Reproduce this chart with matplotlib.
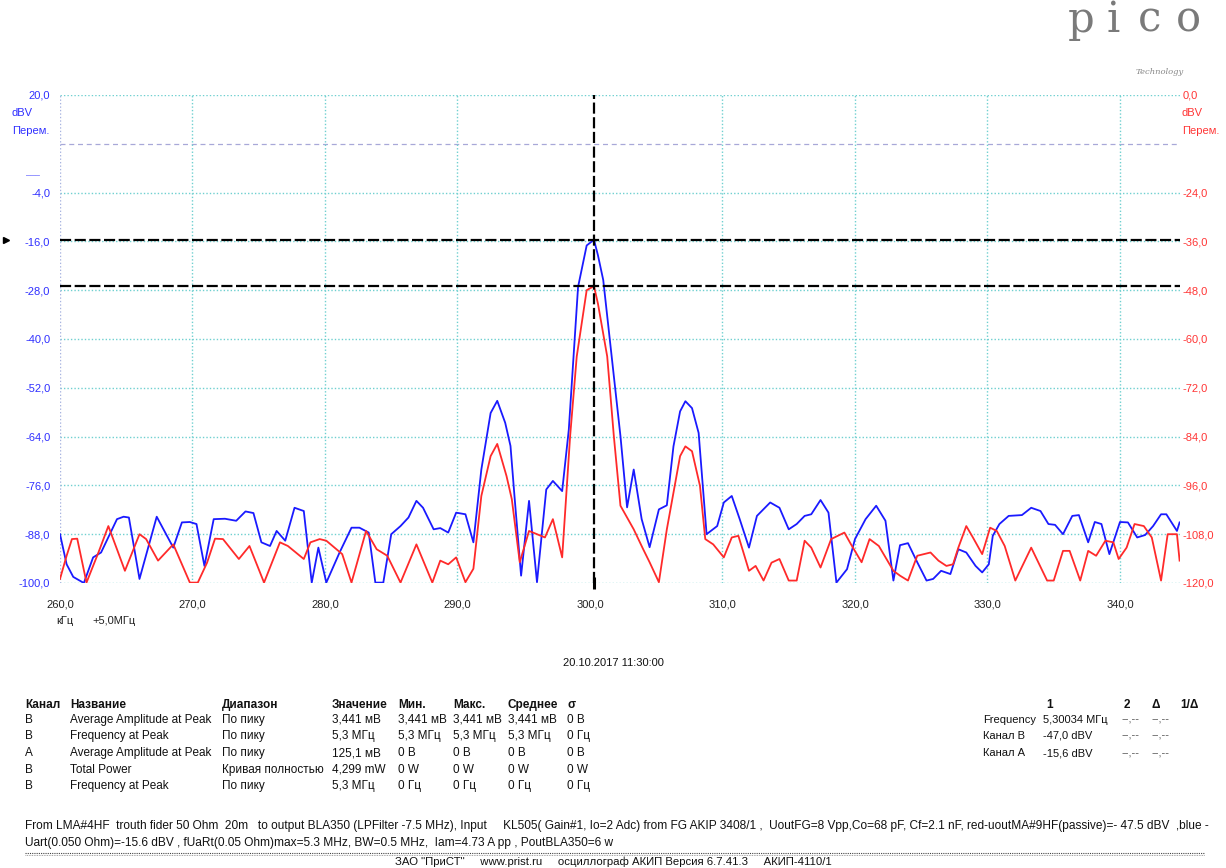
import matplotlib
matplotlib.use('Agg')
import matplotlib.pyplot as plt
from matplotlib.lines import Line2D
import matplotlib.transforms as mtrans

plt.rcParams['font.family'] = ['Liberation Sans', 'DejaVu Sans']

W, H = 1226, 868

# ---------------- data (kHz offset from 5.0 MHz, dBV) ----------------
freq_blue = [260.0, 260.5, 261.0, 261.8, 262.5, 263.1, 264.3, 264.8, 265.2, 266.0,
             267.3, 268.55, 269.2, 269.8, 270.3, 270.9, 271.6, 272.45, 273.3, 274.0,
             274.6, 275.2, 275.85, 276.35, 277.0, 277.7, 278.4, 279.0, 279.5, 280.1,
             281.1, 282.0, 282.6, 283.3, 283.8, 284.4, 285.0, 285.7, 286.3, 286.9,
             287.4, 288.2, 288.7, 289.3, 289.9, 290.6, 291.2, 291.8, 292.5, 293.0,
             293.6, 294.0, 294.3, 294.8, 295.4, 296.0, 296.7, 297.2, 297.9, 298.4,
             299.1, 299.75, 300.3, 300.6, 301.0, 301.5, 302.3, 302.8, 303.3, 303.9,
             304.5, 305.2, 305.8, 306.3, 306.8, 307.2, 307.7, 308.2, 308.8, 309.6,
             310.1, 310.7, 311.3, 312.0, 312.6, 313.6, 314.3, 315.0, 315.6, 316.2,
             316.7, 317.4, 318.0, 318.6, 319.4, 320.0, 320.8, 321.6, 322.3, 322.9,
             323.4, 324.0, 324.7, 325.4, 325.9, 326.5, 327.2, 327.8, 328.4, 329.1,
             329.6, 330.1, 330.4, 330.9, 331.6, 332.6, 333.3, 334.0, 334.6, 335.1,
             335.7, 336.4, 336.9, 337.6, 338.1, 338.6, 339.2, 340.0, 340.6, 341.3,
             341.9, 342.5, 343.1, 343.5, 344.3, 344.5]
blue_dbv = [-88.0, -95.4, -98.5, -100.0, -93.7, -92.5, -84.3, -83.7, -83.9, -99.0,
            -83.7, -91.3, -85.1, -85.0, -85.5, -95.8, -84.3, -84.2, -84.7, -82.4,
            -82.8, -90.0, -90.9, -87.2, -89.6, -81.5, -82.3, -99.9, -91.3, -99.9,
            -92.5, -86.4, -86.4, -87.6, -99.9, -99.9, -88.0, -86.0, -83.9, -79.8,
            -81.5, -86.8, -86.5, -87.6, -82.7, -83.1, -90.0, -72.1, -58.2, -55.2,
            -60.6, -66.3, -78.6, -98.2, -79.8, -99.8, -77.0, -74.9, -77.4, -62.3,
            -27.2, -17.0, -15.6, -19.4, -25.5, -40.2, -63.9, -81.4, -72.1, -84.3,
            -91.2, -81.9, -80.9, -66.4, -57.8, -55.3, -57.0, -63.1, -88.0, -86.0,
            -80.2, -78.6, -84.3, -91.3, -83.5, -80.2, -81.5, -86.8, -85.5, -83.5,
            -83.1, -79.6, -82.7, -99.9, -96.6, -89.2, -84.3, -81.0, -84.7, -99.4,
            -90.7, -90.2, -94.9, -99.4, -99.0, -97.0, -97.8, -91.7, -92.5, -95.8,
            -97.4, -95.4, -88.4, -85.5, -83.5, -83.3, -81.5, -82.3, -85.5, -85.7,
            -88.0, -83.5, -83.3, -90.0, -85.0, -85.5, -92.9, -85.0, -85.1, -88.8,
            -88.2, -86.0, -83.1, -83.1, -87.2, -85.1]

freq_red = [260.0, 260.5, 260.9, 261.3, 262.0, 262.9, 263.65, 264.3, 264.9, 266.0,
            266.5, 267.4, 268.55, 269.8, 270.4, 271.1, 271.7, 272.3, 273.5, 274.3,
            275.4, 276.6, 277.2, 278.4, 278.9, 279.6, 280.1, 281.3, 282.0, 283.1,
            283.9, 284.7, 285.7, 286.9, 288.1, 288.7, 289.3, 289.9, 290.6, 291.2,
            291.8, 292.5, 293.0, 293.7, 294.1, 294.7, 295.4, 296.0, 296.6, 297.2,
            297.9, 298.5, 299.0, 299.75, 300.3, 300.6, 301.3, 301.8, 302.3, 303.3,
            304.0, 304.5, 305.2, 305.8, 306.3, 306.8, 307.2, 307.7, 308.3, 308.7,
            309.3, 310.1, 310.7, 311.2, 312.0, 312.5, 313.1, 313.7, 314.3, 315.0,
            315.6, 316.2, 316.7, 317.4, 318.2, 319.2, 319.7, 320.5, 321.1, 321.8,
            322.9, 323.4, 324.0, 324.7, 325.7, 326.3, 326.9, 327.4, 327.8, 328.4,
            328.9, 329.6, 330.2, 330.7, 331.3, 332.1, 333.3, 334.5, 335.0, 335.7,
            336.2, 337.0, 337.6, 338.2, 338.9, 339.5, 339.9, 340.5, 341.1, 341.8,
            342.4, 343.1, 343.6, 344.3, 344.5]
red_dbv = [-119.0, -113.3, -109.2, -109.1, -119.9, -112.5, -106.0, -111.7, -117.0, -108.0,
           -109.2, -114.5, -110.5, -119.9, -119.9, -115.0, -109.1, -109.2, -114.1, -110.9,
           -119.9, -110.0, -110.9, -114.1, -110.0, -109.2, -109.6, -112.9, -119.9, -107.2,
           -111.7, -113.3, -119.9, -110.5, -119.9, -114.5, -115.4, -113.7, -119.8, -116.5,
           -98.6, -88.8, -85.8, -93.7, -99.4, -114.9, -107.2, -108.0, -108.8, -104.3,
           -113.7, -83.9, -64.3, -48.0, -47.0, -51.3, -64.3, -83.9, -101.0, -106.8,
           -111.6, -114.9, -119.8, -106.8, -97.8, -88.8, -86.4, -87.6, -96.1, -109.2,
           -110.5, -113.7, -108.8, -108.4, -117.0, -115.8, -119.4, -115.0, -114.1, -119.4,
           -119.4, -109.6, -111.3, -116.2, -109.2, -107.6, -110.5, -114.9, -109.2, -110.9,
           -117.0, -118.2, -119.4, -113.3, -112.5, -114.5, -115.8, -115.4, -111.3, -106.0,
           -108.8, -112.9, -106.4, -107.2, -110.9, -119.4, -111.3, -119.4, -119.4, -112.1,
           -112.1, -119.4, -112.1, -113.3, -109.6, -110.0, -114.1, -111.3, -105.5, -106.0,
           -108.8, -119.4, -108.0, -108.0, -114.5]

x_ticks = [260, 270, 280, 290, 300, 310, 320, 330, 340]
left_grid = [20, 8, -4, -16, -28, -40, -52, -64, -76, -88, -100]
left_ticks = [20, -4, -16, -28, -40, -52, -64, -76, -88, -100]
right_ticks = [0, -24, -36, -48, -60, -72, -84, -96, -108, -120]
cursor_freq = 300.34
cursor_a = -15.6   # channel A (blue, left scale)
cursor_b = -47.0   # channel B (red, right scale)

x_min, x_max = 260.0, 344.53


def fx(px):
    return px / W


def fy(py):
    return 1 - py / H


def fmt(v):
    return f"{v:.1f}".replace('.', ',')


BLUE = '#1a1aff'
RED = '#ff2a2a'
BLUE_TXT = '#2f2fff'
RED_TXT = '#ff3535'
GRID = '#6fd0d0'
TXT = '#111111'
FS_AX = 8
FS_TAB = 8.5

fig = plt.figure(figsize=(W / 100, H / 100), dpi=100)
fig.patch.set_facecolor('white')

ax = fig.add_axes([fx(60), fy(583), (1180 - 60) / W, (583 - 95) / H])
ax.set_xlim(x_min, x_max)
ax.set_ylim(-100, 20)
for s in ax.spines.values():
    s.set_visible(False)

# grid
for g in left_grid:
    if g == 8:
        ax.axhline(g, color='#a8a8d8', lw=0.9, ls=(0, (4, 3)), zorder=0)
    else:
        ax.axhline(g, color=GRID, lw=1.0, ls=(0, (1, 1.5)), zorder=0)
for xt in x_ticks:
    if xt == 260:
        ax.axvline(xt, color='#a8b4e0', lw=1.0, ls=(0, (1, 1.5)), zorder=0)
    elif xt != 300:
        ax.axvline(xt, color=GRID, lw=1.0, ls=(0, (1, 1.5)), zorder=0)

ax.set_xticks(x_ticks)
ax.set_xticklabels([fmt(v) for v in x_ticks], fontsize=FS_AX, color='#222222')
ax.set_yticks(left_ticks)
ax.set_yticklabels([fmt(v) for v in left_ticks], fontsize=FS_AX, color=BLUE_TXT)
ax.tick_params(axis='x', length=0, pad=12)
ax.tick_params(axis='y', length=0, pad=7)

ax.plot(freq_blue, blue_dbv, color=BLUE, lw=1.3, zorder=3)
ax.axhline(cursor_a, color='black', lw=1.6, dashes=(5, 1.6), zorder=5)

ax2 = ax.twinx()
ax2.set_ylim(-120, 0)
for s in ax2.spines.values():
    s.set_visible(False)
ax2.set_yticks(right_ticks)
ax2.set_yticklabels([fmt(v) for v in right_ticks], fontsize=FS_AX, color=RED_TXT)
ax2.tick_params(axis='y', length=0, pad=2)
ax2.plot(freq_red, red_dbv, color=RED, lw=1.3, zorder=2)
ax2.axhline(cursor_b, color='black', lw=1.6, dashes=(5, 1.6), zorder=5)
ax2.axvline(cursor_freq, color='black', lw=1.6, dashes=(5, 1.6), zorder=6)
ax2.plot([cursor_freq], [-120], marker='|', color='black', ms=9, mew=2.2, clip_on=False, zorder=7)

# left marker of channel A cursor
tr = mtrans.blended_transform_factory(fig.transFigure, ax.transData)
ax.plot([fx(6)], [cursor_a], marker='>', color='black', ms=4, transform=tr, clip_on=False)

# axis unit texts
fig.text(fx(12), fy(113), 'dBV', color=BLUE_TXT, fontsize=FS_AX, va='center')
fig.text(fx(12), fy(131), 'Перем.', color=BLUE_TXT, fontsize=FS_AX, va='center')
fig.text(fx(26), fy(176), '–––', color=BLUE_TXT, fontsize=6, va='center')
fig.text(fx(1182), fy(113), 'dBV', color=RED_TXT, fontsize=FS_AX, va='center')
fig.text(fx(1182), fy(131), 'Перем.', color=RED_TXT, fontsize=FS_AX, va='center')
fig.text(fx(56), fy(621), 'кГц', color='#222222', fontsize=FS_AX, va='center')
fig.text(fx(92), fy(621), '+5,0МГц', color='#222222', fontsize=FS_AX, va='center')

# logo
for ch, px in zip('pico', [1081, 1113, 1150, 1188]):
    fig.text(fx(px), fy(32), ch, family='DejaVu Serif', fontsize=30, color='#7a7a7a',
             ha='center', va='baseline')
fig.text(fx(1160), fy(72), 'Technology', family='DejaVu Serif', style='italic',
         fontsize=6, color='#888888', ha='center', va='center')

# date
fig.text(fx(613), fy(663), '20.10.2017 11:30:00', fontsize=8, color=TXT,
         ha='center', va='center')

# measurements table
col_x = [25, 70, 222, 332, 398, 453, 508, 567]
headers = ['Канал', 'Название', 'Диапазон', 'Значение', 'Мин.', 'Макс.', 'Среднее', 'σ']
rows = [
    ['B', 'Average Amplitude at Peak', 'По пику', '3,441 мВ', '3,441 мВ', '3,441 мВ', '3,441 мВ', '0 В'],
    ['B', 'Frequency at Peak', 'По пику', '5,3 МГц', '5,3 МГц', '5,3 МГц', '5,3 МГц', '0 Гц'],
    ['A', 'Average Amplitude at Peak', 'По пику', '125,1 мВ', '0 В', '0 В', '0 В', '0 В'],
    ['B', 'Total Power', 'Кривая полностью', '4,299 mW', '0 W', '0 W', '0 W', '0 W'],
    ['B', 'Frequency at Peak', 'По пику', '5,3 МГц', '0 Гц', '0 Гц', '0 Гц', '0 Гц'],
]
row_y = [720, 736, 753, 770, 786]
for cx, h in zip(col_x, headers):
    fig.text(fx(cx), fy(705), h, fontsize=FS_TAB, fontweight='bold', color=TXT, va='center')
for ry, r in zip(row_y, rows):
    for cx, t in zip(col_x, r):
        fig.text(fx(cx), fy(ry), t, fontsize=FS_TAB, color=TXT, va='center')

# cursor table
for cx, h in zip([1046, 1124, 1151, 1180], ['1', '2', 'Δ', '1/Δ']):
    fig.text(fx(cx), fy(705), h, fontsize=FS_TAB, fontweight='bold', color=TXT, va='center')
crows = [['Frequency', '5,30034 МГц'], ['Канал B', '-47,0 dBV'], ['Канал А', '-15,6 dBV']]
for ry, (lab, val) in zip([720, 736, 753], crows):
    fig.text(fx(983), fy(ry), lab, fontsize=8, color=TXT, va='center')
    fig.text(fx(1043), fy(ry), val, fontsize=8, color=TXT, va='center')
    fig.text(fx(1121), fy(ry), '--,--', fontsize=8, color='#555555', va='center')
    fig.text(fx(1151), fy(ry), '--,--', fontsize=8, color='#555555', va='center')

# footer notes
fig.text(fx(25), fy(826),
         'From LMA#4HF  trouth fider 50 Ohm  20m   to output BLA350 (LPFilter -7.5 MHz), Input     '
         'KL505( Gain#1, Io=2 Adc) from FG AKIP 3408/1 ,  UoutFG=8 Vpp,Co=68 pF, Cf=2.1 nF, '
         'red-uoutMA#9HF(passive)=- 47.5 dBV  ,blue -',
         fontsize=8.6, color=TXT, va='center')
fig.text(fx(25), fy(843),
         'Uart(0.050 Ohm)=-15.6 dBV , fUaRt(0.05 Ohm)max=5.3 MHz, BW=0.5 MHz,  Iam=4.73 A pp , PoutBLA350=6 w',
         fontsize=8.6, color=TXT, va='center')
fig.add_artist(Line2D([fx(25), fx(1205)], [fy(853), fy(853)], color='#444444', lw=0.8,
                      ls=(0, (1, 1))))
fig.add_artist(Line2D([fx(25), fx(1205)], [fy(855), fy(855)], color='#888888', lw=0.6,
                      ls=(0, (1, 1))))
fig.text(fx(613), fy(862),
         'ЗАО "ПриСТ"     www.prist.ru     осциллограф АКИП Версия 6.7.41.3     АКИП-4110/1',
         fontsize=8.2, color=TXT, ha='center', va='center')

fig.savefig('out.png', dpi=100)
